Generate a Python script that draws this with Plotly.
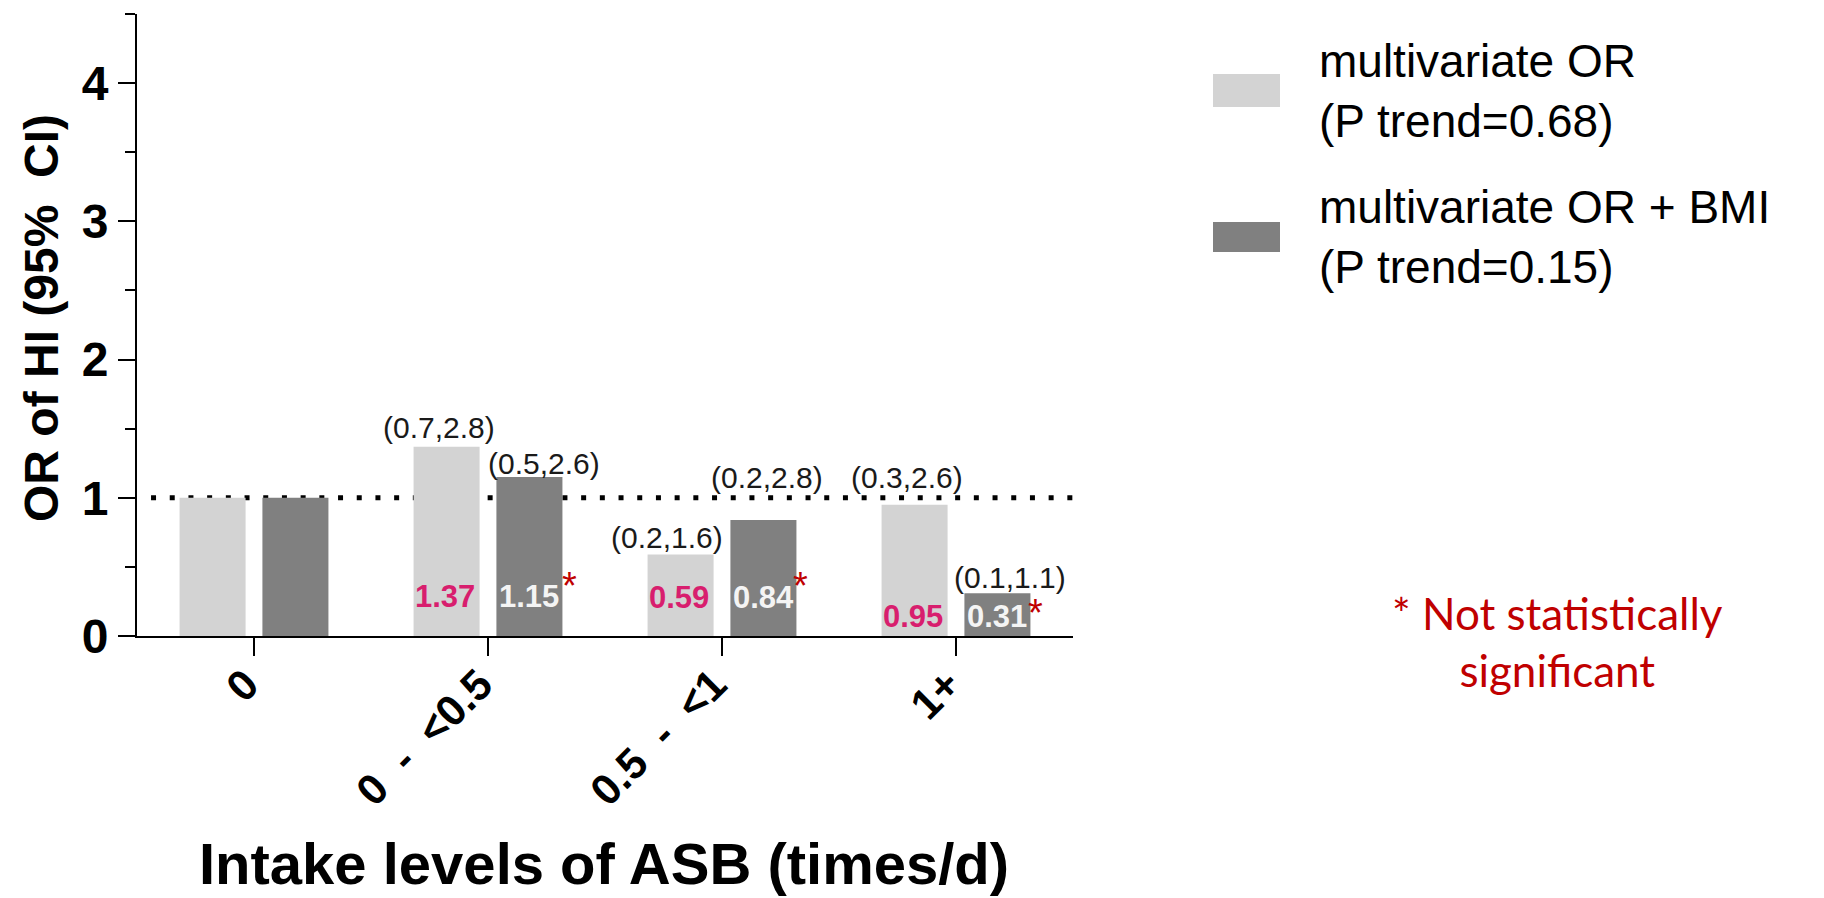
import plotly.graph_objects as go

# ---------------- data ----------------
categories = ["0", "0 - <0.5", "0.5 - <1", "1+"]
or_multivariate = [1.00, 1.37, 0.59, 0.95]
or_multivariate_bmi = [1.00, 1.15, 0.84, 0.31]
ci_multivariate = ["", "(0.7,2.8)", "(0.2,1.6)", "(0.3,2.6)"]
ci_multivariate_bmi = ["", "(0.5,2.6)", "(0.2,2.8)", "(0.1,1.1)"]
value_labels_mv = ["", "1.37", "0.59", "0.95"]
value_labels_bmi = ["", "1.15", "0.84", "0.31"]
not_significant_bmi = [False, True, True, True]
legend_names = ["multivariate OR<br>(P trend=0.68)", "multivariate OR + BMI<br>(P trend=0.15)"]
x_title = "Intake levels of ASB (times/d)"
y_title = "OR of HI (95%\u00a0 CI)"
note_text = "* Not statistically<br>significant"

# ---------------- style / layout ----------------
# the page body has an 8px margin: the figure is drawn 8px lower/right than the screen origin
BODY = 8
W, H = 1824 - BODY, 898 - BODY
ML, MR, MT, MB = 137 - BODY, 751, 14 - BODY, 262
PW, PH = W - ML - MR, H - MT - MB
LIGHT, DARK = "#D3D3D3", "#808080"
MAGENTA, RED = "#D81E6E", "#C00000"
FONT = "Liberation Sans, Arial, sans-serif"
BAR_OFF = 0.177  # half distance between the two bars of a group (category units)


def px_x(px):  # screen px -> paper x
    return (px - BODY - ML) / PW


def px_y(py):  # screen px -> paper y
    return (H - MB - (py - BODY)) / PH


tick_text = [c.replace(" ", "\u00a0 ") for c in categories]

fig = go.Figure()
fig.add_bar(x=categories, y=or_multivariate, name=legend_names[0],
            marker=dict(color=LIGHT, line=dict(width=0)), showlegend=False)
fig.add_bar(x=categories, y=or_multivariate_bmi, name=legend_names[1],
            marker=dict(color=DARK, line=dict(width=0)), showlegend=False)

# reference line at OR = 1 (drawn below bars)
fig.add_shape(type="line", xref="x", yref="y", x0=-0.44, x1=3.5, y0=1, y1=1,
              line=dict(color="black", width=5, dash="5px,13.7px"), layer="below")

ann = []
# CI labels: (xshift, yshift) in pixels relative to the top centre of each bar
ci_shift_mv = [None, (-8, 19), (-14, 17), (-8, 27)]
ci_shift_bmi = [None, (15, 14), (4, 42), (13, 16)]
for i in range(len(categories)):
    if ci_multivariate[i]:
        dx, dy = ci_shift_mv[i]
        ann.append(dict(x=i - BAR_OFF, y=or_multivariate[i], xref="x", yref="y",
                        text=ci_multivariate[i], showarrow=False, xanchor="center",
                        yanchor="middle", xshift=dx, yshift=dy,
                        font=dict(family=FONT, size=30, color="#1a1a1a")))
    if ci_multivariate_bmi[i]:
        dx, dy = ci_shift_bmi[i]
        ann.append(dict(x=i + BAR_OFF, y=or_multivariate_bmi[i], xref="x", yref="y",
                        text=ci_multivariate_bmi[i], showarrow=False, xanchor="center",
                        yanchor="middle", xshift=dx, yshift=dy,
                        font=dict(family=FONT, size=30, color="#1a1a1a")))

# value labels inside bars (pixel height above the x axis)
val_lift = [0, 40, 39, 20]
star_pos = [None, (40, 50), (37, 50), (38, 23)]
for i in range(len(categories)):
    if value_labels_mv[i]:
        ann.append(dict(x=i - BAR_OFF, y=0, xref="x", yref="y", text=value_labels_mv[i],
                        showarrow=False, xanchor="center", yanchor="middle",
                        xshift=-2, yshift=val_lift[i],
                        font=dict(family=FONT, size=31, color=MAGENTA, weight="bold")))
    if value_labels_bmi[i]:
        ann.append(dict(x=i + BAR_OFF, y=0, xref="x", yref="y", text=value_labels_bmi[i],
                        showarrow=False, xanchor="center", yanchor="middle",
                        xshift=0, yshift=val_lift[i],
                        font=dict(family=FONT, size=31, color="#F4F4F4", weight="bold")))
    if not_significant_bmi[i]:
        sx, sy = star_pos[i]
        ann.append(dict(x=i + BAR_OFF, y=0, xref="x", yref="y", text="*",
                        showarrow=False, xanchor="center", yanchor="middle",
                        xshift=sx, yshift=sy,
                        font=dict(family=FONT, size=38, color=RED)))

# axis titles
ann.append(dict(x=px_x(604), y=px_y(863), xref="paper", yref="paper", text=x_title,
                showarrow=False, xanchor="center", yanchor="middle",
                font=dict(family=FONT, size=58, color="black", weight="bold")))
ann.append(dict(x=px_x(41), y=px_y(318), xref="paper", yref="paper", text=y_title,
                showarrow=False, xanchor="center", yanchor="middle", textangle=-90,
                font=dict(family=FONT, size=48, color="black", weight="bold")))

# legend (manual, to reproduce the large swatches)
swatches = [(LIGHT, 74, 107), (DARK, 222, 252)]
for (col, y0, y1), name in zip(swatches, legend_names):
    fig.add_shape(type="rect", xref="paper", yref="paper",
                  x0=px_x(1213), x1=px_x(1280), y0=px_y(y1), y1=px_y(y0),
                  fillcolor=col, line=dict(width=0))
    ann.append(dict(x=px_x(1317), y=px_y((y0 + y1) / 2), xref="paper", yref="paper",
                    text=name, showarrow=False, xanchor="left", yanchor="middle", align="left",
                    font=dict(family=FONT, size=46, color="black")))

# significance note
ann.append(dict(x=px_x(1557), y=px_y(641), xref="paper", yref="paper", text=note_text,
                showarrow=False, xanchor="center", yanchor="middle", align="center",
                font=dict(family="Lato, Open Sans, sans-serif", size=44, color=RED)))

fig.update_layout(
    width=W, height=H,
    margin=dict(l=ML, r=MR, t=MT, b=MB, pad=0),
    paper_bgcolor="white", plot_bgcolor="white",
    barmode="group", bargap=0.292, bargroupgap=0.203,
    showlegend=False,
    annotations=ann,
    font=dict(family=FONT, color="black"),
)
fig.update_xaxes(
    type="category", range=[-0.5, 3.5], showline=True, linecolor="black", linewidth=2,
    tickvals=categories, ticktext=tick_text,
    ticks="outside", ticklen=18, tickwidth=2, tickcolor="black", tickangle=-45,
    ticklabelstandoff=-14, ticklabelshift=-8,
    tickfont=dict(family=FONT, size=43, color="black", weight="bold"),
    showgrid=False, zeroline=False,
)
fig.update_yaxes(
    range=[0, 4.5], tickvals=[0, 1, 2, 3, 4], showline=True, linecolor="black", linewidth=2,
    ticks="outside", ticklen=17, tickwidth=2, tickcolor="black",
    tickfont=dict(family=FONT, size=48, color="black", weight="bold"),
    minor=dict(tickvals=[0.5, 1.5, 2.5, 3.5, 4.5], ticks="outside", ticklen=10,
               tickwidth=2, tickcolor="black", showgrid=False),
    showgrid=False, zeroline=False,
)

fig.write_html("out.html")
